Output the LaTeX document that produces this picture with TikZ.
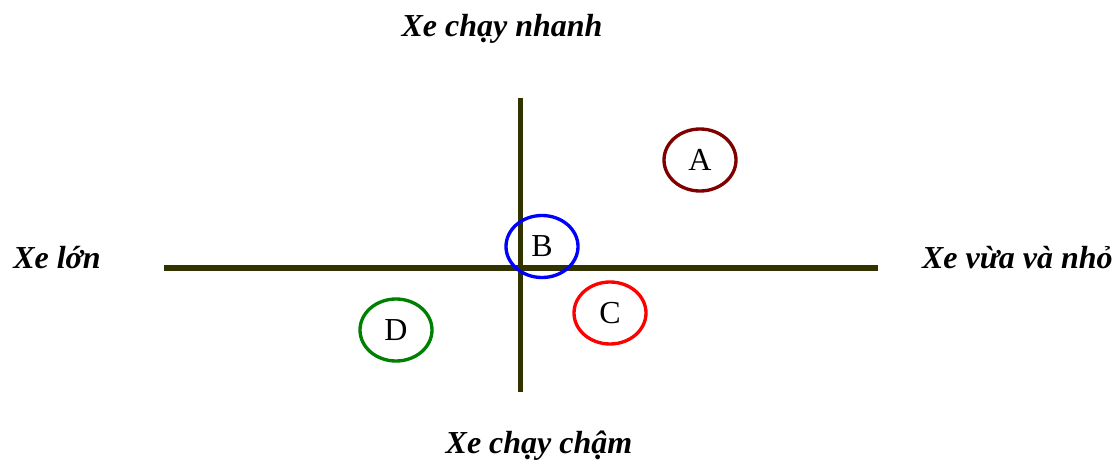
\documentclass[tikz,border=0pt]{standalone}
\usepackage{fontspec}
\setmainfont{Liberation Serif}
\usetikzlibrary{shapes.geometric}
\definecolor{axiscol}{RGB}{51,51,0}
\definecolor{colA}{RGB}{128,0,0}
\definecolor{colB}{RGB}{0,0,255}
\definecolor{colC}{RGB}{255,0,0}
\definecolor{colD}{RGB}{0,128,0}
\tikzset{
  axisline/.style={draw=axiscol, line width=4.2pt},
  bubble/.style={ellipse, draw, line width=2.5pt, minimum width=54pt, minimum height=46.5pt, inner sep=0pt, font=\fontsize{24}{28}\selectfont},
  axislabel/.style={anchor=base, inner sep=0pt, font=\fontsize{24}{28}\selectfont\bfseries\itshape},
}
\begin{document}
\begin{tikzpicture}[x=0.75pt,y=-0.75pt]
\useasboundingbox (0,0) rectangle (1120,460);
\coordinate (hl) at (164,268);
\coordinate (hr) at (878,268);
\coordinate (vt) at (520.5,98);
\coordinate (vb) at (520.5,392);
\draw[axisline] (hl) -- (hr);
\draw[axisline] (vt) -- (vb);
\node[bubble, draw=colA] (A) at (700,160) {A};
\node[bubble, draw=colB] (B) at (542,246.5) {B};
\node[bubble, draw=colC] (C) at (610,313) {C};
\node[bubble, draw=colD] (D) at (396,330) {D};
\node[axislabel] (top) at (502,37) {Xe chạy nhanh};
\node[axislabel] (bot) at (539,453) {Xe chạy chậm};
\node[axislabel, anchor=base west] (left) at (13,268) {Xe lớn};
\node[axislabel, anchor=base east] (right) at (1113,268) {Xe vừa và nhỏ};
\end{tikzpicture}
\end{document}
